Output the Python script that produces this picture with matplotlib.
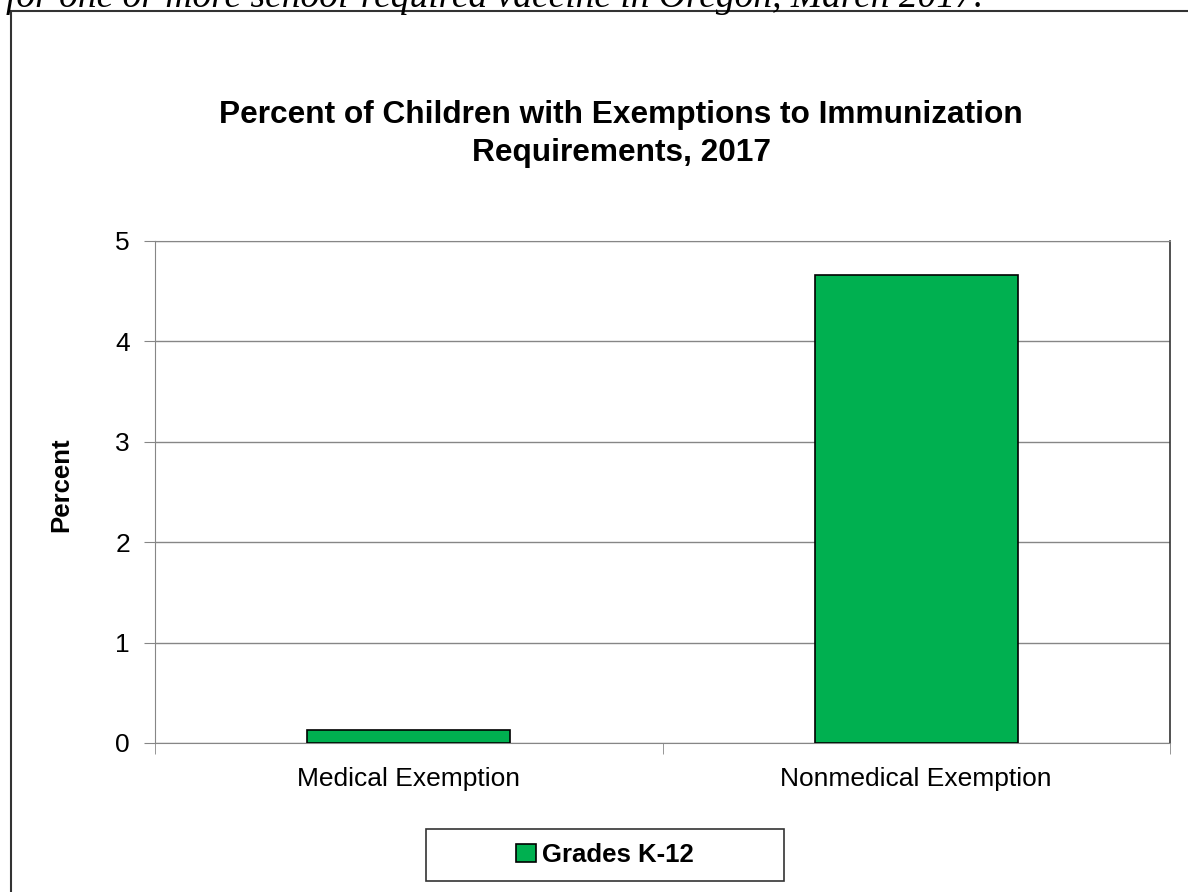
#!/usr/bin/env python3
"""
Percent of children with exemptions to immunization requirements, Oregon 2017.
"""

import matplotlib
matplotlib.use('Agg')
import matplotlib.pyplot as plt
from matplotlib.patches import Rectangle

categories = ['Medical Exemption', 'Nonmedical Exemption']
percent = [0.13, 4.66]
series_name = 'Grades K-12'
y_ticks = [0, 1, 2, 3, 4, 5]

W, H = 1188, 892
GREEN = '#00b050'
GRID = '#868686'


def main() -> None:
    plt.rcParams['font.family'] = ['Liberation Sans', 'DejaVu Sans']
    fig = plt.figure(figsize=(W / 100, H / 100), dpi=100)

    # outer frame of the chart object, runs off the right and bottom edges
    fig.patches.append(Rectangle((11 / W, -0.05), 1.1, 1 - 11 / H + 0.05,
                                 transform=fig.transFigure, fill=False,
                                 edgecolor='#333333', linewidth=1.5))

    # caption text cut off at the top of the page
    fig.text(6 / W, 1 - 7 / H, 'for one or more school-required vaccine in Oregon, March 2017.',
             family='Liberation Serif', style='italic', fontsize=27,
             ha='left', va='baseline')

    ax = fig.add_axes([155 / W, (H - 743) / H, (1170 - 155) / W, (743 - 241) / H])
    x = list(range(len(categories)))
    ax.bar(x, percent, width=0.40, color=GREEN, edgecolor='black', linewidth=1.2,
           label=series_name, zorder=3)
    ax.set_xlim(-0.5, len(categories) - 0.5)
    ax.set_ylim(0, 5)
    ax.set_yticks(y_ticks)
    ax.set_yticklabels([str(t) for t in y_ticks])
    ax.set_xticks(x)
    ax.set_xticklabels(categories)
    ax.set_xticks([i + 0.5 for i in range(-1, len(categories))], minor=True)
    ax.tick_params(axis='x', which='major', length=0, pad=17, labelsize=19)
    ax.tick_params(axis='x', which='minor', length=8, direction='out', color=GRID)
    ax.tick_params(axis='y', length=8, direction='out', color=GRID, pad=10, labelsize=19)
    ax.grid(axis='y', color=GRID, linewidth=1, zorder=0)
    for side in ['left', 'bottom', 'top']:
        ax.spines[side].set_color(GRID)
    ax.spines['right'].set_color('#333333')
    ax.spines['right'].set_linewidth(1.2)

    ax.set_ylabel('Percent', fontsize=18.5, fontweight='bold')
    ax.yaxis.set_label_coords(-82 / (1170 - 155), (743 - 485) / (743 - 241))

    fig.text(621 / W, 1 - 100 / H,
             'Percent of Children with Exemptions to Immunization\nRequirements, 2017',
             ha='center', va='top', fontsize=22.8, fontweight='bold', linespacing=1.36)

    # legend box drawn by hand so its width matches the reference
    fig.patches.append(Rectangle((426 / W, 1 - 881 / H), 358 / W, 52 / H,
                                 transform=fig.transFigure, fill=False,
                                 edgecolor='#333333', linewidth=1.2))
    fig.legend(loc='center', bbox_to_anchor=(605 / W, 1 - 855 / H), frameon=False,
               prop={'size': 18.5, 'weight': 'bold'}, handlelength=0.75,
               handleheight=0.75, handletextpad=0.25)

    fig.savefig('out.png', dpi=100)


if __name__ == '__main__':
    main()
